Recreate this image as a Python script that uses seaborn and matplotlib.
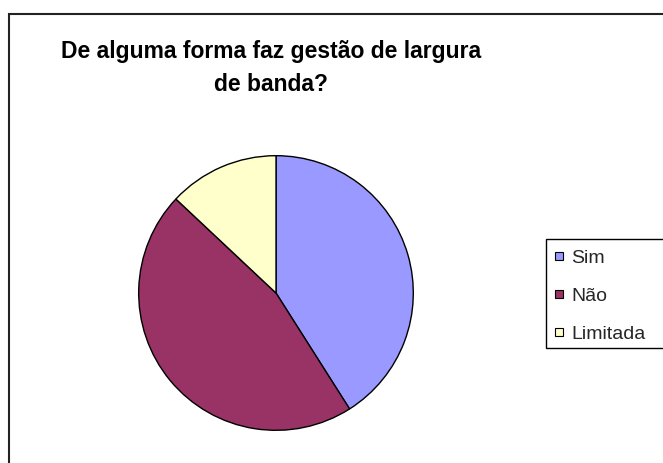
import matplotlib
matplotlib.use("Agg")
import matplotlib.pyplot as plt
from matplotlib.patches import Rectangle, Patch
import seaborn as sns

# Survey answers (percent of respondents)
categorias = ["Sim", "Não", "Limitada"]
valores = [41, 46, 13]
cores = ["#9999FF", "#993366", "#FFFFCC"]
titulo = "De alguma forma faz gestão de largura\nde banda?"

sns.set_theme(style="white")
plt.rcParams["font.family"] = ["Liberation Sans", "DejaVu Sans"]

W, H = 663, 463
fig = plt.figure(figsize=(W / 100, H / 100), dpi=100)
fig.patch.set_facecolor("white")

def fx(px):
    return px / W

def fy(py):
    return 1 - py / H

# chart area border (runs off the right and bottom edges)
fig.patches.append(Rectangle((fx(9), fy(480)), fx(700) - fx(9), fy(14) - fy(480),
                             transform=fig.transFigure, fill=False,
                             edgecolor="#222222", linewidth=1.5, zorder=0))

# pie
cx, cy, r = 276, 293, 138
ax = fig.add_axes([fx(cx - r), fy(cy + r), 2 * r / W, 2 * r / H])
wedges, _ = ax.pie(valores, colors=cores, startangle=90, counterclock=False,
                   wedgeprops=dict(edgecolor="black", linewidth=1.0))
ax.set_xlim(-1.005, 1.005)
ax.set_ylim(-1.005, 1.005)
ax.set_aspect("equal")
ax.axis("off")

# title
fig.text(fx(271), fy(68), titulo, ha="center", va="center",
         fontsize=16.5, fontweight="bold", linespacing=1.6,
         color="black")

# legend box and entries
fig.patches.append(Rectangle((fx(546), fy(348)), fx(700) - fx(546), fy(239) - fy(348),
                             transform=fig.transFigure, fill=False,
                             edgecolor="black", linewidth=1.0, zorder=1))
handles = [Patch(facecolor=c, edgecolor="black", linewidth=0.8) for c in cores]
fig.legend(handles, categorias, loc="upper left",
           bbox_to_anchor=(fx(555), fy(250)), frameon=False,
           fontsize=14, handlelength=0.4, handleheight=0.24,
           handletextpad=0.45, labelspacing=1.08, borderpad=0, borderaxespad=0)

fig.savefig("out.png", dpi=100, facecolor="white")
